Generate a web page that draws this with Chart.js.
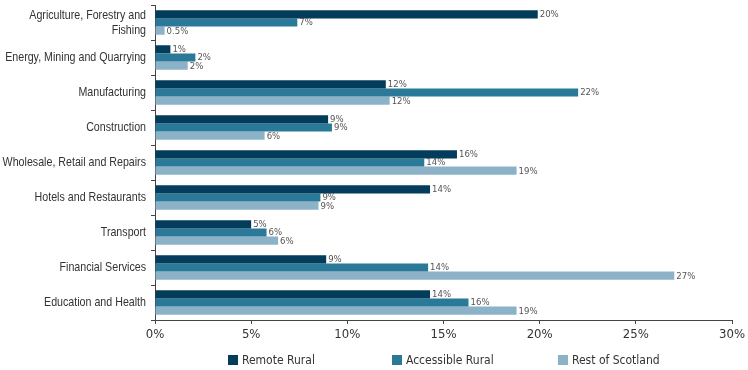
<!DOCTYPE html>
<html>
<head>
<meta charset="utf-8">
<script src="https://cdn.jsdelivr.net/npm/chart.js@4/dist/chart.umd.min.js"></script>
<style>
  body { margin: 0; background: #fff; }
  #wrap { position: relative; width: 748px; height: 370px; }
  #legend {
    position: absolute; top: 352px; left: 0; width: 748px; height: 16px;
    font: 12px "DejaVu Sans Condensed", sans-serif; color: #333;
  }
  #legend span { position: absolute; top: 0; line-height: 16px; white-space: nowrap; }
  #legend i { display: inline-block; width: 10px; height: 10px; margin-right: 4px; vertical-align: -1px; }
</style>
</head>
<body>
<div id="wrap">
  <canvas id="myChart" width="748" height="370"></canvas>
  <div id="legend"></div>
</div>
<script>
// industry sectors, share of employment by area type (%)
const sectors = [
  ['Agriculture, Forestry and', 'Fishing'],
  'Energy, Mining and Quarrying',
  'Manufacturing',
  'Construction',
  'Wholesale, Retail and Repairs',
  'Hotels and Restaurants',
  'Transport',
  'Financial Services',
  'Education and Health'
];
const remoteRural     = [19.9, 0.8, 12.0, 9.0, 15.7, 14.3, 5.0, 8.9, 14.3];
const accessibleRural = [7.4, 2.1, 22.0, 9.2, 14.0, 8.6, 5.8, 14.2, 16.3];
const restOfScotland  = [0.5, 1.7, 12.2, 5.7, 18.8, 8.5, 6.4, 27.0, 18.8];
const seriesNames = ['Remote Rural', 'Accessible Rural', 'Rest of Scotland'];
const xTicks = [0, 5, 10, 15, 20, 25, 30];

const colours = ['#033d5b', '#2b7999', '#8cb2c8'];
const font = '"DejaVu Sans Condensed", sans-serif';

const pct = function (v) {
  return (v < 0.6 ? v.toFixed(1) : Math.round(v)) + '%';
};

// value labels at the end of every bar
const barLabels = {
  id: 'barLabels',
  afterDatasetsDraw(chart) {
    const ctx = chart.ctx;
    ctx.save();
    ctx.font = '9.5px ' + font;
    ctx.fillStyle = '#555';
    ctx.textBaseline = 'middle';
    chart.data.datasets.forEach(function (ds, i) {
      chart.getDatasetMeta(i).data.forEach(function (bar, j) {
        ctx.fillText(pct(ds.data[j]), bar.x + 2, bar.y + 0.5);
      });
    });
    ctx.restore();
  }
};

// sector names drawn narrow (condensed look), right aligned against the axis
const sectorLabels = {
  id: 'sectorLabels',
  afterDraw(chart) {
    const ctx = chart.ctx;
    const yScale = chart.scales.y;
    const squeeze = 0.82;
    const right = yScale.right - 9;
    ctx.save();
    ctx.font = '13px "Liberation Sans", Arial, sans-serif';
    ctx.fillStyle = '#333';
    ctx.textAlign = 'right';
    ctx.textBaseline = 'middle';
    ctx.scale(squeeze, 1);
    chart.data.labels.forEach(function (label, i) {
      const lines = Array.isArray(label) ? label : [label];
      const y = yScale.getPixelForTick(i);
      lines.forEach(function (line, k) {
        const ly = y + (k - (lines.length - 1) / 2) * 15;
        ctx.fillText(line, right / squeeze, ly);
      });
    });
    ctx.restore();
  }
};

myChart = new Chart(document.getElementById('myChart').getContext('2d'), {
  type: 'bar',
  data: {
    labels: sectors,
    datasets: [
      { label: seriesNames[0], data: remoteRural, backgroundColor: colours[0] },
      { label: seriesNames[1], data: accessibleRural, backgroundColor: colours[1] },
      { label: seriesNames[2], data: restOfScotland, backgroundColor: colours[2] }
    ]
  },
  options: {
    indexAxis: 'y',
    responsive: false,
    animation: false,
    layout: { padding: { top: 5, right: 15, left: 0, bottom: 0 } },
    datasets: { bar: { categoryPercentage: 0.7, barPercentage: 1 } },
    plugins: { legend: { display: false }, tooltip: { enabled: false } },
    scales: {
      x: {
        min: 0,
        max: 30,
        afterBuildTicks: function (scale) {
          scale.ticks = xTicks.map(function (v) { return { value: v }; });
        },
        afterFit: function (scale) { scale.height = 50; },
        border: { display: true, color: '#444', width: 1 },
        grid: { drawOnChartArea: false, tickLength: 4, color: '#444' },
        ticks: {
          padding: 3,
          color: '#333',
          font: { family: font, size: 13 },
          callback: function (v) { return v + '%'; }
        }
      },
      y: {
        afterFit: function (scale) {
          scale.width = 155;
          scale.paddingTop = 0;
          scale.paddingBottom = 0;
        },
        border: { display: true, color: '#444', width: 1 },
        grid: { drawOnChartArea: false, tickLength: 4, color: '#444' },
        ticks: { display: false }
      }
    }
  },
  plugins: [barLabels, sectorLabels]
});

// legend row under the axis
const legendX = [228, 392, 558];
const legendDiv = document.getElementById('legend');
seriesNames.forEach(function (name, i) {
  legendDiv.insertAdjacentHTML('beforeend',
    `<span style="left:${legendX[i]}px"><i style="background:${colours[i]}"></i>${name}</span>`);
});
</script>
</body>
</html>
